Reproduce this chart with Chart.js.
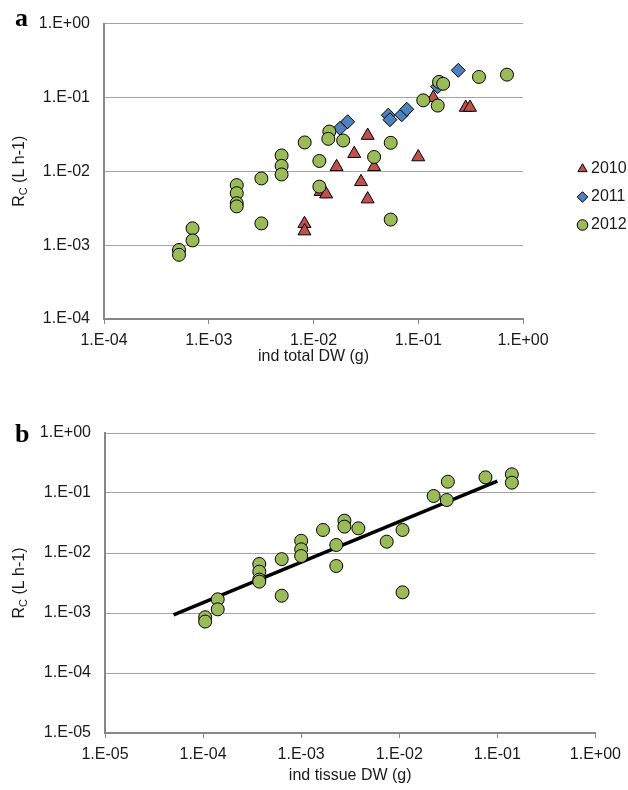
<!DOCTYPE html>
<html>
<head>
<meta charset="utf-8">
<script src="https://cdn.jsdelivr.net/npm/chart.js@4.4.1/dist/chart.umd.min.js"></script>
<style>
  html, body { margin: 0; padding: 0; background: #fff; }
  #wrap { position: relative; width: 628px; height: 790px; }
  #graficoA { position: absolute; left: 0; top: 0; }
  #graficoB { position: absolute; left: 0; top: 394px; }
</style>
</head>
<body>
<div id="wrap">
  <canvas id="graficoA" width="628" height="394"></canvas>
  <canvas id="graficoB" width="628" height="396"></canvas>
</div>
<script>
// painel a: Rc vs ind total DW (g)
const totalDw2010 = [0.0082, 0.0082, 0.0166, 0.0245, 0.0329, 0.0379, 0.0284, 0.0329, 0.0117, 0.0132, 0.100, 0.139, 0.284, 0.312]
const rc2010 = [0.00195, 0.00155, 0.0115, 0.0173, 0.0305, 0.0115, 0.0072, 0.0042, 0.0053, 0.0049, 0.0156, 0.099, 0.073, 0.073]

const totalDw2011 = [0.0179, 0.0212, 0.0518, 0.0537, 0.0695, 0.0777, 0.153, 0.241]
const rc2011 = [0.0382, 0.0469, 0.0575, 0.0499, 0.0582, 0.0692, 0.14, 0.233]

const totalDw2012 = [0.00052, 0.00052, 0.00070, 0.00070, 0.00185, 0.00185, 0.00185, 0.00185, 0.00318, 0.00318,
  0.00496, 0.00496, 0.00496, 0.00824, 0.01138, 0.01138, 0.01416, 0.01384, 0.0192, 0.0379,
  0.0546, 0.0546, 0.1116, 0.1535, 0.158, 0.173, 0.380, 0.703]
const rc2012 = [0.00086, 0.00074, 0.00169, 0.00116, 0.0065, 0.00505, 0.0037, 0.00335, 0.0080, 0.00197,
  0.0164, 0.01185, 0.00906, 0.0246, 0.0138, 0.0062, 0.0345, 0.0275, 0.0261, 0.01563,
  0.0243, 0.00222, 0.0914, 0.0776, 0.1625, 0.153, 0.1896, 0.2036]

// painel b: Rc (2012) vs ind tissue DW (g)
const tissueDw2012 = [0.000105, 0.000105, 0.000141, 0.000141, 0.000374, 0.000374, 0.000374, 0.000374, 0.000633, 0.000633,
  0.00100, 0.00100, 0.00100, 0.00167, 0.00228, 0.00228, 0.00276, 0.00276, 0.00383, 0.00745,
  0.0108, 0.0108, 0.0224, 0.0305, 0.0313, 0.0757, 0.1406, 0.1406]
const rcTissue2012 = [0.00085, 0.00072, 0.00169, 0.00115, 0.00656, 0.00489, 0.0036, 0.00333, 0.0079, 0.00194,
  0.0160, 0.0115, 0.0089, 0.0242, 0.0136, 0.00607, 0.0346, 0.0275, 0.0258, 0.01545,
  0.0242, 0.00221, 0.0891, 0.0764, 0.1544, 0.1825, 0.205, 0.1486]

// linha de ajuste (extremos)
const ajusteX = [0.00005, 0.1]
const ajusteY = [0.00093, 0.158]

const ticksA = [1e-4, 1e-3, 1e-2, 1e-1, 1]
const ticksBx = [1e-5, 1e-4, 1e-3, 1e-2, 1e-1, 1]
const ticksBy = [1e-5, 1e-4, 1e-3, 1e-2, 1e-1, 1]

const fonte = { family: '"Liberation Sans", Arial, sans-serif', size: 16 }
const corTexto = '#1a1a1a'
const corEixo = '#878787'
const corGrade = '#a3a3a3'

function pontos(xs, ys) {
  return xs.map((x, i) => ({ x, y: ys[i] }))
}

function formatarExp(v) {
  const e = Math.round(Math.log10(v))
  return '1.E' + (e < 0 ? '-' : '+') + String(Math.abs(e)).padStart(2, '0')
}

function eixoX(ticks, titulo, altura, padTitulo) {
  return {
    type: 'logarithmic',
    min: ticks[0],
    max: ticks[ticks.length - 1],
    afterBuildTicks: s => { s.ticks = ticks.map(v => ({ value: v })) },
    afterFit: s => { s.height = altura },
    grid: { display: true, drawOnChartArea: false, drawTicks: true, tickLength: 5, color: corEixo, lineWidth: 1 },
    border: { display: true, color: corEixo, width: 2 },
    ticks: { callback: formatarExp, font: fonte, color: corTexto, padding: 7, maxRotation: 0, autoSkip: false },
    title: { display: true, text: titulo, font: fonte, color: corTexto, padding: { top: 0, bottom: padTitulo } }
  }
}

function eixoY(ticks, largura) {
  return {
    type: 'logarithmic',
    min: ticks[0],
    max: ticks[ticks.length - 1],
    afterBuildTicks: s => { s.ticks = ticks.map(v => ({ value: v })) },
    afterFit: s => { s.width = largura },
    grid: { color: corGrade, lineWidth: 1, drawTicks: false },
    border: { display: true, color: corEixo, width: 2 },
    ticks: { callback: formatarExp, font: fonte, color: corTexto, padding: 14, autoSkip: false }
  }
}

// letra do painel e titulo do eixo y com subscrito
function decoracao(letra, yLetra) {
  return {
    id: 'decoracao',
    afterDraw(chart) {
      const ctx = chart.ctx
      const area = chart.chartArea
      ctx.save()
      ctx.fillStyle = '#000'
      ctx.textBaseline = 'alphabetic'
      ctx.textAlign = 'left'
      ctx.font = 'bold 26px "Liberation Serif", "Times New Roman", serif'
      ctx.fillText(letra, 15, yLetra)

      const grande = '16px "Liberation Sans", Arial, sans-serif'
      const pequena = '11px "Liberation Sans", Arial, sans-serif'
      ctx.font = grande
      const wR = ctx.measureText('R').width
      const wResto = ctx.measureText(' (L h-1)').width
      ctx.font = pequena
      const wC = ctx.measureText('C').width
      const total = wR + wC + wResto
      ctx.translate(24, (area.top + area.bottom) / 2)
      ctx.rotate(-Math.PI / 2)
      ctx.fillStyle = corTexto
      let u = -total / 2
      ctx.font = grande
      ctx.fillText('R', u, 0)
      u += wR
      ctx.font = pequena
      ctx.fillText('C', u, 3)
      u += wC
      ctx.font = grande
      ctx.fillText(' (L h-1)', u, 0)
      ctx.restore()
    }
  }
}

// empurra a legenda para a direita, como no original
const moverLegenda = {
  id: 'moverLegenda',
  afterLayout(chart) {
    const lg = chart.legend
    if (!lg) return
    const dx = 570 - lg.left
    lg.left += dx
    lg.right += dx
  }
}

const ctxA = document.getElementById('graficoA').getContext('2d')
const chartA = new Chart(ctxA, {
  type: 'scatter',
  data: {
    datasets: [{
      label: '2010',
      data: pontos(totalDw2010, rc2010),
      pointStyle: 'triangle',
      pointRadius: 7.5,
      backgroundColor: '#C0504D',
      borderColor: '#000',
      pointBackgroundColor: '#C0504D',
      pointBorderColor: '#000',
      pointBorderWidth: 1,
      borderWidth: 1,
      order: 3
    }, {
      label: '2011',
      data: pontos(totalDw2011, rc2011),
      pointStyle: 'rectRot',
      pointRadius: 7,
      backgroundColor: '#4F81BD',
      borderColor: '#000',
      pointBackgroundColor: '#4F81BD',
      pointBorderColor: '#000',
      pointBorderWidth: 1,
      borderWidth: 1,
      order: 2
    }, {
      label: '2012',
      data: pontos(totalDw2012, rc2012),
      pointStyle: 'circle',
      pointRadius: 6.5,
      backgroundColor: '#9BBB59',
      borderColor: '#000',
      pointBackgroundColor: '#9BBB59',
      pointBorderColor: '#000',
      pointBorderWidth: 1,
      borderWidth: 1,
      order: 1
    }]
  },
  options: {
    responsive: false,
    animation: false,
    devicePixelRatio: 1,
    events: [],
    layout: { padding: { top: 20, bottom: 20, left: 0, right: 45 } },
    scales: {
      x: eixoX(ticksA, 'ind total DW (g)', 55, 7.4),
      y: eixoY(ticksA, 104)
    },
    plugins: {
      tooltip: { enabled: false },
      legend: {
        display: true,
        position: 'right',
        maxWidth: 60,
        labels: {
          usePointStyle: true, boxWidth: 1, boxHeight: 7.5, padding: 12, font: fonte, color: corTexto,
          sort: (a, b) => a.datasetIndex - b.datasetIndex
        }
      }
    }
  },
  plugins: [decoracao('a', 26), moverLegenda]
})

const ctxB = document.getElementById('graficoB').getContext('2d')
const chartB = new Chart(ctxB, {
  type: 'scatter',
  data: {
    datasets: [{
      label: '2012',
      data: pontos(tissueDw2012, rcTissue2012),
      pointStyle: 'circle',
      pointRadius: 6.5,
      backgroundColor: '#9BBB59',
      borderColor: '#000',
      pointBackgroundColor: '#9BBB59',
      pointBorderColor: '#000',
      pointBorderWidth: 1,
      borderWidth: 1,
      order: 1
    }, {
      label: 'ajuste',
      data: pontos(ajusteX, ajusteY),
      showLine: true,
      borderColor: '#000',
      borderWidth: 3.5,
      pointRadius: 0,
      order: 2
    }]
  },
  options: {
    responsive: false,
    animation: false,
    devicePixelRatio: 1,
    events: [],
    layout: { padding: { top: 39, bottom: 0, left: 0, right: 28 } },
    scales: {
      x: eixoX(ticksBx, 'ind tissue DW (g)', 57, 4.4),
      y: eixoY(ticksBy, 105)
    },
    plugins: {
      tooltip: { enabled: false },
      legend: { display: false }
    }
  },
  plugins: [decoracao('b', 48)]
})
</script>
</body>
</html>
